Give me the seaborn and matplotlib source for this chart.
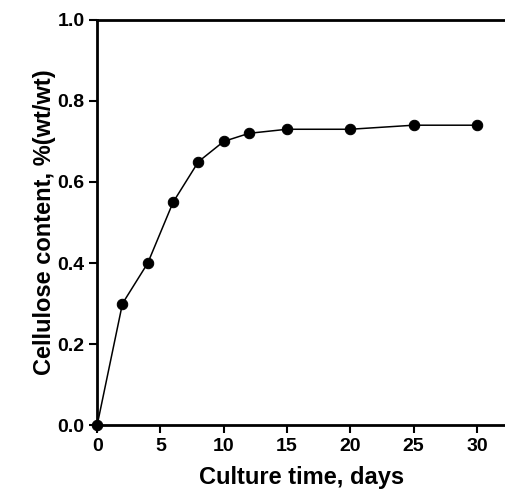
import matplotlib
matplotlib.use("Agg")
import matplotlib.pyplot as plt
import seaborn as sns
import pandas as pd

days = [0, 2, 4, 6, 8, 10, 12, 15, 20, 25, 30]
cellulose = [0.0, 0.30, 0.40, 0.55, 0.65, 0.70, 0.72, 0.73, 0.73, 0.74, 0.74]
xticks = [0, 5, 10, 15, 20, 25, 30]
yticks = [0.0, 0.2, 0.4, 0.6, 0.8, 1.0]

sns.set_theme(style="ticks")
plt.rcParams['font.family'] = ['Liberation Sans', 'DejaVu Sans']
plt.rcParams['text.color'] = 'black'
plt.rcParams['axes.labelcolor'] = 'black'
plt.rcParams['xtick.color'] = 'black'
plt.rcParams['ytick.color'] = 'black'

df = pd.DataFrame({"days": days, "cellulose": cellulose})

fig = plt.figure(figsize=(5.06, 4.95), dpi=100)
ax = fig.add_axes([0.192, 0.141, 0.808, 0.819])
sns.lineplot(data=df, x="days", y="cellulose", ax=ax, color="black",
             marker="o", markersize=7.5, linewidth=1.1, markeredgecolor="black",
             clip_on=False, zorder=3)
ax.set_xlim(0, 32.3)
ax.set_ylim(0, 1.0)
ax.set_xticks(xticks)
ax.set_yticks(yticks)
ax.set_yticklabels([f"{v:.1f}" for v in yticks])
ax.tick_params(axis="both", direction="out", length=6, width=1.5, labelsize=14,
               colors="black", pad=3)
for lab in ax.get_xticklabels() + ax.get_yticklabels():
    lab.set_fontweight("bold")
ax.set_xlabel("Culture time, days", fontsize=17, fontweight="bold", labelpad=8)
ax.set_ylabel("Cellulose content, %(wt/wt)", fontsize=17, fontweight="bold", labelpad=1)
for s in ["left", "bottom", "top"]:
    ax.spines[s].set_linewidth(2)
    ax.spines[s].set_color("black")
ax.spines["right"].set_visible(False)
fig.savefig("out.png", dpi=100)
